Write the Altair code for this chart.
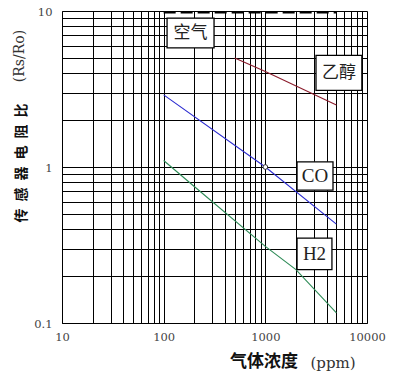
import altair as alt
import pandas as pd

# ---- data ----
ethanol_conc = [500, 1000, 5000]
ethanol_ratio = [5.0, 4.1, 2.5]
co_conc = [100, 1000, 5000]
co_ratio = [2.9, 1.0, 0.43]
h2_conc = [100, 200, 1000, 2000, 5000]
h2_ratio = [1.1, 0.75, 0.31, 0.22, 0.116]
air_conc = [100, 5000]
air_ratio = [9.8, 9.8]
marker_conc = [1000]
marker_ratio = [1.0]

# annotation boxes (data coordinates)
label_text = ["空气", "乙醇", "CO", "H2"]
label_x = [184, 5300, 3080, 3045]
label_y = [7.2, 4.0, 0.87, 0.277]
box_x1 = [108, 3150, 2050, 2050]
box_x2 = [313, 8900, 4630, 4520]
box_y1 = [5.8, 3.1, 0.71, 0.22]
box_y2 = [9.0, 5.2, 1.08, 0.35]
label_font = ["Noto Sans CJK SC", "Noto Sans CJK SC", "Liberation Serif", "Liberation Serif"]

x_grid = [m * d for d in (10, 100, 1000) for m in range(1, 10)] + [10000]
y_grid = [round(m * d, 1) for d in (0.1, 1) for m in range(1, 10)] + [10]

gas_names = ["乙醇", "CO", "H2"]
gas_colors = ["#8b1c2c", "#2b2bd0", "#2e8b57"]

lines = pd.DataFrame(
    {"gas": ["乙醇"] * len(ethanol_conc) + ["CO"] * len(co_conc) + ["H2"] * len(h2_conc),
     "conc": ethanol_conc + co_conc + h2_conc,
     "ratio": ethanol_ratio + co_ratio + h2_ratio}
)
air = pd.DataFrame({"conc": air_conc, "ratio": air_ratio})
marker = pd.DataFrame({"conc": marker_conc, "ratio": marker_ratio})
labels = pd.DataFrame({"text": label_text, "x": label_x, "y": label_y,
                       "x1": box_x1, "x2": box_x2, "y1": box_y1, "y2": box_y2,
                       "font": label_font})

xscale = alt.Scale(type="log", domain=[10, 10000], nice=False)
yscale = alt.Scale(type="log", domain=[0.1, 10], nice=False)

xaxis = alt.Axis(values=x_grid, format="d", title=None, grid=True, ticks=False,
                 labelOverlap=False, labelPadding=8, labelFlush=False,
                 labelExpr="indexof([10,100,1000,10000], datum.value) >= 0 ? datum.label : ''")
yaxis = alt.Axis(values=y_grid, format="~g", title=None, grid=True, ticks=False,
                 labelOverlap=False, labelPadding=10, labelFlush=False, labelOffset=1,
                 labelExpr="indexof([0.1,1,10], datum.value) >= 0 ? datum.label : ''")

line_layer = alt.Chart(lines).mark_line(strokeWidth=1.1).encode(
    x=alt.X("conc:Q", scale=xscale, axis=xaxis),
    y=alt.Y("ratio:Q", scale=yscale, axis=yaxis),
    color=alt.Color("gas:N", scale=alt.Scale(domain=gas_names, range=gas_colors), legend=None),
    detail="gas:N",
)

air_layer = alt.Chart(air).mark_line(color="black", strokeWidth=2.5, strokeDash=[12, 5]).encode(
    x="conc:Q", y="ratio:Q"
)

marker_layer = alt.Chart(marker).mark_point(shape="circle", size=22, filled=True, fill="white",
                                             stroke="#333", strokeWidth=1, opacity=1).encode(
    x="conc:Q", y="ratio:Q"
)

box_layer = alt.Chart(labels).mark_rect(fill="white", stroke="black", strokeWidth=1.3).encode(
    x="x1:Q", x2="x2:Q", y="y1:Q", y2="y2:Q"
)

cjk = labels[labels["font"] == "Noto Sans CJK SC"]
lat = labels[labels["font"] != "Noto Sans CJK SC"]
text_cjk = alt.Chart(cjk).mark_text(font="Noto Sans CJK SC", fontSize=17, color="#222").encode(
    x="x:Q", y="y:Q", text="text:N"
)
text_lat = alt.Chart(lat).mark_text(font="Liberation Serif", fontSize=19, color="#222").encode(
    x="x:Q", y="y:Q", text="text:N"
)

one = pd.DataFrame({"a": [0]})
ytitle_cn = alt.Chart(one).mark_text(text="传\u2002感\u2002器\u2002电\u2002阻\u2002比",
                                     font="Noto Sans CJK SC", fontSize=14,
                                     fontWeight="bold", angle=270, color="#111").encode(
    x=alt.value(-40), y=alt.value(152))
ytitle_en = alt.Chart(one).mark_text(text="(Rs/Ro)", font="DejaVu Serif", fontSize=14,
                                     angle=270, color="#333").encode(
    x=alt.value(-42), y=alt.value(45))
xtitle_cn = alt.Chart(one).mark_text(text="气体浓度", font="Noto Sans CJK SC", fontSize=17,
                                     fontWeight="bold", color="#111").encode(
    x=alt.value(202), y=alt.value(351))
xtitle_en = alt.Chart(one).mark_text(text="(ppm)", font="DejaVu Serif", fontSize=15,
                                     color="#333").encode(
    x=alt.value(271), y=alt.value(352))

chart = alt.layer(
    line_layer, air_layer, marker_layer, box_layer, text_cjk, text_lat,
    ytitle_cn, ytitle_en, xtitle_cn, xtitle_en
).properties(
    width=305, height=312,
    autosize=alt.AutoSizeParams(type="none"),
    padding={"left": 54, "top": 3, "right": 20, "bottom": 57},
).configure_view(strokeWidth=0).configure_axis(
    gridColor="black", gridWidth=1, gridOpacity=1,
    domainColor="black", domainWidth=1,
    labelFont="DejaVu Serif", labelFontSize=11.5, labelColor="#444",
)

chart.save("out.html", embed_options={"renderer": "svg", "actions": False})
